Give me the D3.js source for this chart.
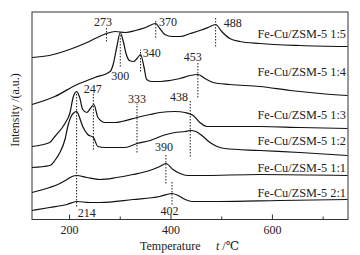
<!DOCTYPE html>
<html>
<head>
<meta charset="utf-8">
<script src="https://cdn.jsdelivr.net/npm/d3@7"></script>
<style>
  body { margin: 0; background: #fff; }
  svg { display: block; font-family: "Liberation Serif", "DejaVu Serif", serif; }
</style>
</head>
<body>
<svg width="360" height="255"></svg>
<script>
// TPR curves, temperature in °C and intensity in a.u. (offset per sample)
const names = ["Fe-Cu/ZSM-5 1:5", "Fe-Cu/ZSM-5 1:4", "Fe-Cu/ZSM-5 1:3",
               "Fe-Cu/ZSM-5 1:2", "Fe-Cu/ZSM-5 1:1", "Fe-Cu/ZSM-5 2:1"];

const t15 = [126, 160, 200, 230, 255, 273, 290, 310, 330, 350, 370, 378, 388, 402, 418, 438, 457, 473, 488, 500, 516, 536, 575, 655, 748];
const i15 = [81, 82, 85, 88, 91, 93, 94, 93.5, 94.5, 96, 98, 95.5, 92.5, 91.5, 91.5, 93, 94.5, 96, 97.5, 94, 90.5, 89, 88, 87, 86.5];

const t14 = [126, 171, 215, 250, 280, 286, 293, 300, 306, 312, 318, 326, 333, 340, 347, 352, 362, 380, 398, 418, 438, 453, 467, 483, 516, 575, 635, 694, 748];
const i14 = [57.5, 61.5, 67.5, 71, 74, 77.5, 86, 93.5, 89, 82.5, 79.5, 79, 80.5, 82.5, 76, 70, 69, 69, 69.5, 70.5, 72, 72.5, 70.5, 68.5, 67.5, 66.5, 64.5, 63, 62];

const t13 = [126, 161, 171, 191, 201, 207, 214, 220, 226, 234, 241, 248, 256, 270, 290, 303, 333, 359, 378, 408, 428, 444, 457, 471, 496, 575, 654, 748];
const i13 = [36.5, 38.5, 41.5, 48, 53.5, 61, 64, 61, 55, 53.5, 55.5, 57.5, 51, 48.5, 48.5, 49, 51, 52.5, 53.5, 54, 53.5, 52, 48.5, 46.5, 46.5, 46.5, 46, 45.5];

const t12 = [126, 161, 171, 181, 191, 197, 203, 209, 214, 219, 226, 236, 247, 256, 270, 290, 309, 333, 359, 384, 408, 428, 438, 449, 463, 477, 491, 506, 575, 654, 748];
const i12 = [26, 27, 29.5, 33.5, 40, 47, 51.5, 53.5, 54, 51.5, 46.5, 42.5, 41, 36.5, 36, 36, 36, 38, 39.5, 42, 43.5, 44, 44.5, 44, 41.5, 38.5, 36.5, 35.5, 34.5, 33.5, 32];

const t11 = [126, 161, 181, 195, 205, 214, 234, 260, 293, 325, 358, 378, 390, 404, 418, 432, 457, 575, 748];
const i11 = [13.5, 16, 18, 20, 21.5, 22, 21, 20, 21, 22.5, 24.5, 26.5, 28, 25, 23, 22, 22, 22.5, 22];

const t21 = [126, 161, 195, 214, 240, 260, 325, 378, 402, 414, 428, 441, 496, 614, 748];
const i21 = [4.5, 6, 7.5, 9, 8.5, 8.5, 10, 11.5, 13, 12, 10, 9, 9, 9.5, 10];

const temps = [t15, t14, t13, t12, t11, t21];
const intens = [i15, i14, i13, i12, i11, i21];
const nameLevel = [93, 74, 52.5, 39.5, 26, 13.5];

// peak markers: temperature, dotted line from lo to hi, label position
const peakT   = [273, 370, 488, 300, 340, 453, 247, 333, 438, 214, 390, 402];
const peakLo  = [89, 91, 86.5, 76.5, 74, 61, 35, 33.5, 31.5, 6.5, 18, 7.5];
const peakHi  = [96, 100, 101, 92.5, 85, 79, 63, 58, 60, 64, 33, 19];
const labelT  = [266, 394, 522, 300, 362, 443, 246, 333, 416, 234, 386, 397];
const labelI  = [99, 99, 98.5, 72, 83.5, 81.5, 65.5, 60.5, 61.5, 3.5, 36.5, 4.5];

const majorTicks = [200, 400, 600];
const minorTicks = [300, 500, 700];

const svg = d3.select("svg");
const mLeft = 32, mRight = 348, mTop = 12, mBottom = 219.5;

const x = d3.scaleLinear().domain([126, 749]).range([mLeft, mRight]);
const y = d3.scaleLinear().domain([0, 103.75]).range([mBottom, mTop]);

// frame
svg.append("rect")
  .attr("x", mLeft).attr("y", mTop)
  .attr("width", mRight - mLeft).attr("height", mBottom - mTop)
  .attr("fill", "none").attr("stroke", "#333").attr("stroke-width", 1);

// bottom ticks, drawn inward
const tickG = svg.append("g").attr("stroke", "#333");
tickG.selectAll(".maj").data(majorTicks).join("line")
  .attr("x1", d => x(d)).attr("x2", d => x(d))
  .attr("y1", mBottom).attr("y2", mBottom - 5);
tickG.selectAll(".min").data(minorTicks).join("line")
  .attr("x1", d => x(d)).attr("x2", d => x(d))
  .attr("y1", mBottom).attr("y2", mBottom - 3);

svg.append("g").selectAll("text").data(majorTicks).join("text")
  .attr("x", d => x(d)).attr("y", 234)
  .attr("text-anchor", "middle").attr("font-size", 12).attr("fill", "#222")
  .text(d => d);

// axis titles
const xt = svg.append("text").attr("x", 140).attr("y", 250)
  .attr("font-size", 12).attr("fill", "#222");
xt.append("tspan").text("Temperature");
xt.append("tspan").attr("x", 216).attr("font-style", "italic").text("t");
xt.append("tspan").text(" /℃");

svg.append("text")
  .attr("transform", "translate(19,110) rotate(-90)")
  .attr("text-anchor", "middle").attr("font-size", 12).attr("fill", "#222")
  .text("Intensity /(a.u.)");

// curves
const line = d3.line()
  .x(d => x(d[0])).y(d => y(d[1]))
  .curve(d3.curveMonotoneX);

svg.append("g").selectAll("path")
  .data(temps.map((ts, k) => ts.map((t, j) => [t, intens[k][j]])))
  .join("path")
  .attr("d", line)
  .attr("fill", "none").attr("stroke", "#111").attr("stroke-width", 1.2);

// sample names
svg.append("g").selectAll("text").data(names).join("text")
  .attr("x", x(745)).attr("y", (d, k) => y(nameLevel[k]))
  .attr("dy", "0.35em").attr("text-anchor", "end")
  .attr("font-size", 12.3).attr("fill", "#222")
  .text(d => d);

// peak markers
svg.append("g").selectAll("line").data(peakT).join("line")
  .attr("x1", d => x(d)).attr("x2", d => x(d))
  .attr("y1", (d, k) => y(peakLo[k])).attr("y2", (d, k) => y(peakHi[k]))
  .attr("stroke", "#222").attr("stroke-width", 1)
  .attr("stroke-dasharray", "1.5,1.5");

svg.append("g").selectAll("text").data(peakT).join("text")
  .attr("x", (d, k) => x(labelT[k])).attr("y", (d, k) => y(labelI[k]))
  .attr("dy", "0.35em").attr("text-anchor", "middle")
  .attr("font-size", 12).attr("fill", "#222")
  .text(d => d);
</script>
</body>
</html>
